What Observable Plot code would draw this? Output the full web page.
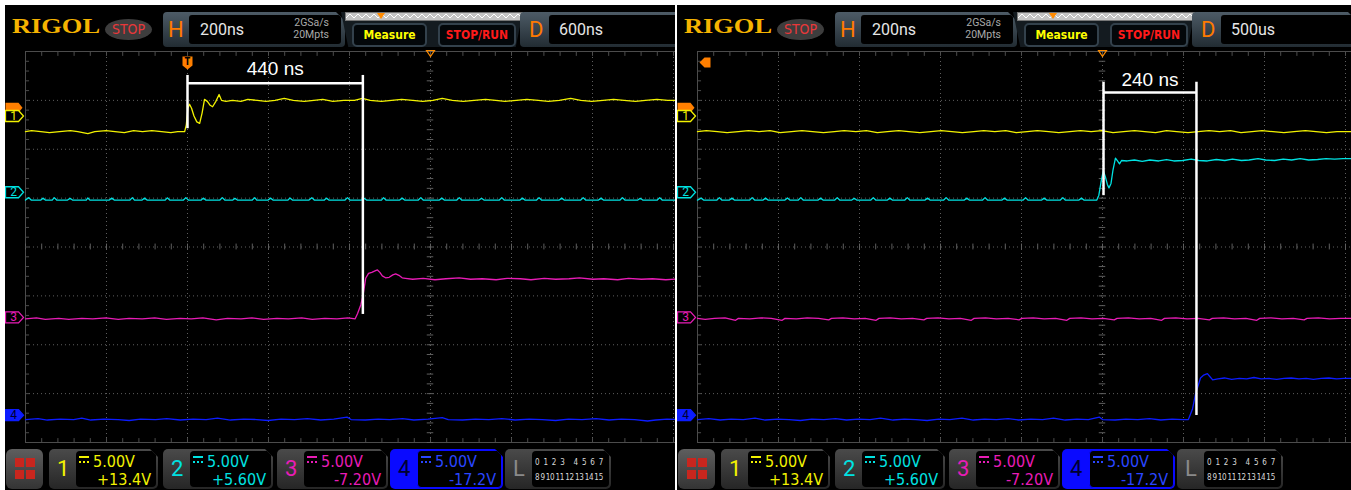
<!DOCTYPE html>
<html><head><meta charset="utf-8">
<script src="https://cdn.jsdelivr.net/npm/d3@7"></script>
<script src="https://cdn.jsdelivr.net/npm/@observablehq/plot@0.6"></script>
<style>
body{margin:0;background:#fff;font-family:"Liberation Sans Narrow","DejaVu Sans Condensed",Roboto,sans-serif;}
#wrap{position:relative;width:1351px;height:490px;overflow:hidden;background:#fff;}
.panel{position:absolute;top:5px;height:485px;background:#000;overflow:hidden;}
.a{position:absolute;}
.logo{left:7px;top:8px;font:bold 22px "Liberation Serif",serif;line-height:26px;color:#f5b300;transform:scaleX(1.2);transform-origin:0 0;}
.stop{left:100px;top:14px;width:47px;height:21px;border-radius:50%;background:#3d3d3d;color:#e8383a;font-size:14px;line-height:21px;text-align:center;}
.box{top:7px;height:35px;background:linear-gradient(#4d5b66,#222c33);border-radius:4px;clip-path:polygon(0 0,calc(100% - 9px) 0,100% 9px,100% 100%,0 100%);}
.box .inner{position:absolute;top:3px;bottom:3px;right:4px;background:#000;border-radius:3px;}
.letter{left:5px;top:0;line-height:35px;font-family:Roboto,sans-serif;font-size:22px;color:#ff7a00;}
.tval{top:0;line-height:29px;font-family:Roboto,sans-serif;font-size:16px;color:#e6e6e6;}
.srate{right:12px;top:2px;font-family:Roboto,sans-serif;font-size:10.5px;line-height:12px;color:#aaa;text-align:right;}
.mid{left:336px;top:7px;width:182px;height:35px;background:#141b20;clip-path:polygon(0 0,100% 0,96% 100%,4% 100%);}
.zig{left:340px;top:7px;width:176px;height:7px;background-color:#c3c3c3;border:1px solid #777;
 background-image:url("data:image/svg+xml,%3Csvg xmlns='http://www.w3.org/2000/svg' width='8' height='7'%3E%3Cpolyline points='0,5 4,1 8,5' fill='none' stroke='white' stroke-width='1'/%3E%3C/svg%3E");background-repeat:repeat-x;}
.ztri{left:372px;top:8px;width:0;height:0;border-left:4px solid transparent;border-right:4px solid transparent;border-top:6px solid #ff8a00;}
.btn{top:18px;height:20px;background:#03070a;border:2px solid #33414c;border-radius:5px;font-size:12px;line-height:20px;text-align:center;font-weight:bold;}
.menu{left:1px;top:444px;width:37px;height:40px;background:linear-gradient(#5e5e5e,#343434);border-radius:6px;}
.sq{width:9px;height:9px;background:#c8261e;}
.ch{top:444px;height:40px;background:linear-gradient(#4a4a4a,#262626);border-radius:5px;clip-path:polygon(0 0,calc(100% - 8px) 0,100% 8px,100% 100%,0 100%);}
.ch .num{left:8px;top:0;line-height:40px;font-family:Roboto,sans-serif;font-size:22px;}
.ch .inner{position:absolute;left:27px;top:2px;right:2px;bottom:2px;background:#000;border-radius:4px;}
.l1{left:3px;top:2px;font-size:16px;line-height:18px;white-space:nowrap;}
.l2{right:5px;top:20px;font-size:16px;line-height:18px;}
.dc{display:inline-block;width:10px;height:3px;border-top:2px solid currentColor;border-bottom:2px dotted currentColor;vertical-align:4px;margin-right:4px;}
.dig{left:3px;width:68px;display:flex;justify-content:space-between;font-size:8px;line-height:12px;color:#d8d8d8;letter-spacing:-0.3px;}
</style></head>
<body><div id="wrap"></div>
<script>
// ---------- data ----------
const channels = ["1", "2", "3", "4"];
const chColors = ["#f2f200", "#00e2e2", "#e81cb6", "#0c1cff"];
const chScaleLabels = ["5.00V", "5.00V", "5.00V", "5.00V"];
const chOffsetLabels = ["+13.4V", "+5.60V", "-7.20V", "-17.2V"];
const chOffsets = [13.4, 5.6, -7.2, -17.2];      // volts
const voltsPerDiv = 5;
const timebase = "200ns";
const sampleRate = "2GSa/s";
const memDepth = "20Mpts";
const delays = ["600ns", "500us"];
const measureLabels = ["440 ns", "240 ns"];
const triggerLevelCh1 = 0.75;                    // volts on CH1
const logicRow1 = ["0", "1", "2", "3", "4", "5", "6", "7"];
const logicRow2 = ["8", "9", "10", "11", "12", "13", "14", "15"];

// traces: [time ns from screen centre, volts]
const leftCh1 = [[-1000,-1.6],[-985,-1.5],[-962,-1.6],[-941,-1.7],[-916,-1.6],[-889,-1.5],[-871,-1.6],[-846,-1.8],[-829,-1.6],[-801,-1.5],[-779,-1.6],[-756,-1.7],[-733,-1.5],[-711,-1.6],[-688,-1.5],[-664,-1.6],[-641,-1.7],[-624,-1.6],[-607,-1.6],[-603,-0.9],[-599,0.8],[-595,1.2],[-590,0.8],[-584,0.0],[-577,-0.6],[-570,-0.75],[-564,0.3],[-558,1.7],[-551,1.5],[-544,1.1],[-538,0.95],[-530,1.5],[-522,2.2],[-516,1.6],[-505,1.5],[-489,1.6],[-468,1.5],[-451,1.7],[-428,1.6],[-406,1.5],[-384,1.6],[-361,1.8],[-339,1.6],[-312,1.5],[-288,1.6],[-266,1.7],[-241,1.5],[-214,1.6],[-188,1.6],[-168,1.8],[-149,1.6],[-121,1.5],[-96,1.6],[-71,1.7],[-44,1.6],[-19,1.5],[6,1.6],[29,1.8],[54,1.6],[81,1.5],[108,1.6],[136,1.7],[161,1.6],[184,1.5],[212,1.6],[238,1.7],[266,1.6],[291,1.5],[318,1.6],[346,1.8],[371,1.6],[398,1.5],[426,1.6],[452,1.7],[478,1.6],[506,1.5],[531,1.6],[559,1.7],[586,1.6],[620,1.6]];
const leftCh2 = [[-1000,-0.8],[-992,-0.55],[-986,-0.8],[-962,-0.8],[-957,-0.6],[-951,-0.8],[-934,-0.8],[-929,-0.55],[-923,-0.8],[-896,-0.8],[-890,-0.62],[-884,-0.8],[-850,-0.8],[-846,-0.58],[-841,-0.8],[-793,-0.8],[-787,-0.6],[-781,-0.8],[-742,-0.8],[-736,-0.55],[-731,-0.8],[-712,-0.8],[-706,-0.6],[-700,-0.8],[-655,-0.8],[-650,-0.57],[-644,-0.8],[-610,-0.8],[-604,-0.55],[-598,-0.8],[-566,-0.8],[-561,-0.6],[-555,-0.8],[-520,-0.8],[-514,-0.55],[-508,-0.8],[-488,-0.8],[-483,-0.62],[-477,-0.8],[-440,-0.8],[-434,-0.55],[-429,-0.8],[-401,-0.8],[-395,-0.6],[-389,-0.8],[-352,-0.8],[-347,-0.58],[-341,-0.8],[-300,-0.8],[-293,-0.55],[-287,-0.8],[-262,-0.8],[-257,-0.6],[-251,-0.8],[-211,-0.8],[-205,-0.55],[-199,-0.8],[-170,-0.8],[-164,-0.62],[-158,-0.8],[-121,-0.8],[-116,-0.55],[-110,-0.8],[-76,-0.8],[-70,-0.6],[-64,-0.8],[-30,-0.8],[-24,-0.55],[-18,-0.8],[22,-0.8],[28,-0.6],[34,-0.8],[65,-0.8],[71,-0.55],[77,-0.8],[120,-0.8],[126,-0.62],[132,-0.8],[170,-0.8],[176,-0.55],[182,-0.8],[221,-0.8],[227,-0.6],[233,-0.8],[262,-0.8],[268,-0.55],[274,-0.8],[318,-0.8],[324,-0.6],[330,-0.8],[371,-0.8],[377,-0.55],[383,-0.8],[415,-0.8],[421,-0.6],[427,-0.8],[468,-0.8],[474,-0.55],[480,-0.8],[512,-0.8],[518,-0.62],[524,-0.8],[560,-0.8],[566,-0.55],[572,-0.8],[620,-0.8]];
const leftCh3 = [[-1000,-0.15],[-973,-0.05],[-951,-0.2],[-918,-0.1],[-893,-0.2],[-861,-0.1],[-834,-0.15],[-802,-0.05],[-771,-0.2],[-744,-0.1],[-712,-0.15],[-681,-0.05],[-652,-0.2],[-618,-0.1],[-591,-0.15],[-562,-0.05],[-529,-0.25],[-501,-0.1],[-468,-0.15],[-441,-0.05],[-412,-0.2],[-379,-0.1],[-351,-0.15],[-318,-0.05],[-292,-0.2],[-261,-0.1],[-231,-0.15],[-204,-0.05],[-186,-0.15],[-180,0.4],[-172,1.3],[-166,2.4],[-160,4.0],[-153,4.5],[-145,4.6],[-137,4.75],[-131,4.85],[-125,4.6],[-119,4.25],[-111,4.05],[-102,4.1],[-93,4.35],[-86,4.45],[-78,4.3],[-70,4.05],[-62,4.0],[-44,3.9],[-18,4.0],[11,3.85],[38,3.95],[71,4.05],[99,3.9],[128,3.95],[162,3.85],[189,4.0],[222,3.95],[248,3.85],[281,4.0],[309,3.9],[342,3.95],[368,4.05],[401,3.9],[428,3.95],[462,3.85],[489,4.0],[521,3.9],[548,3.95],[581,3.85],[620,3.95]];
const leftCh4 = [[-1000,-0.45],[-969,-0.35],[-946,-0.5],[-914,-0.4],[-881,-0.45],[-861,-0.3],[-839,-0.5],[-806,-0.4],[-771,-0.45],[-744,-0.55],[-716,-0.4],[-679,-0.45],[-651,-0.35],[-618,-0.5],[-586,-0.4],[-554,-0.45],[-526,-0.3],[-494,-0.5],[-461,-0.4],[-429,-0.45],[-401,-0.55],[-369,-0.4],[-336,-0.45],[-304,-0.35],[-271,-0.5],[-239,-0.4],[-206,-0.2],[-196,-0.45],[-161,-0.5],[-129,-0.4],[-101,-0.45],[-69,-0.35],[-41,-0.5],[-6,-0.4],[29,-0.25],[44,-0.45],[79,-0.5],[111,-0.4],[144,-0.45],[176,-0.35],[209,-0.5],[244,-0.4],[276,-0.45],[309,-0.55],[341,-0.4],[374,-0.45],[409,-0.35],[441,-0.5],[471,-0.4],[504,-0.45],[536,-0.6],[556,-0.5],[584,-0.4],[620,-0.45]];

const rightCh1 = [[-1000,-1.6],[-978,-1.5],[-951,-1.6],[-927,-1.7],[-899,-1.6],[-874,-1.5],[-848,-1.6],[-821,-1.5],[-796,-1.7],[-768,-1.6],[-742,-1.5],[-716,-1.6],[-689,-1.7],[-662,-1.6],[-638,-1.5],[-609,-1.6],[-583,-1.5],[-556,-1.7],[-531,-1.6],[-503,-1.5],[-478,-1.6],[-451,-1.7],[-424,-1.6],[-398,-1.5],[-372,-1.6],[-346,-1.7],[-318,-1.6],[-293,-1.5],[-266,-1.6],[-239,-1.5],[-213,-1.7],[-186,-1.6],[-161,-1.5],[-133,-1.6],[-108,-1.7],[-81,-1.6],[-54,-1.5],[-28,-1.6],[-2,-1.5],[26,-1.7],[52,-1.6],[79,-1.5],[104,-1.6],[131,-1.7],[158,-1.5],[183,-1.6],[211,-1.7],[236,-1.6],[263,-1.5],[289,-1.6],[316,-1.5],[342,-1.7],[369,-1.6],[394,-1.5],[421,-1.6],[448,-1.7],[473,-1.6],[501,-1.5],[527,-1.6],[553,-1.7],[579,-1.6],[620,-1.6]];
const rightCh2 = [[-1000,-0.8],[-991,-0.6],[-985,-0.8],[-952,-0.8],[-946,-0.55],[-940,-0.8],[-921,-0.8],[-915,-0.6],[-909,-0.8],[-871,-0.8],[-865,-0.55],[-859,-0.8],[-838,-0.8],[-832,-0.6],[-826,-0.8],[-784,-0.8],[-778,-0.58],[-772,-0.8],[-751,-0.8],[-745,-0.55],[-739,-0.8],[-702,-0.8],[-696,-0.6],[-690,-0.8],[-661,-0.8],[-655,-0.55],[-649,-0.8],[-619,-0.8],[-613,-0.62],[-607,-0.8],[-572,-0.8],[-566,-0.55],[-560,-0.8],[-531,-0.8],[-525,-0.6],[-519,-0.8],[-488,-0.8],[-482,-0.55],[-476,-0.8],[-438,-0.8],[-432,-0.6],[-426,-0.8],[-392,-0.8],[-386,-0.55],[-380,-0.8],[-341,-0.8],[-335,-0.6],[-329,-0.8],[-296,-0.8],[-290,-0.55],[-284,-0.8],[-248,-0.8],[-242,-0.6],[-236,-0.8],[-196,-0.8],[-190,-0.55],[-184,-0.8],[-150,-0.8],[-144,-0.6],[-138,-0.8],[-104,-0.8],[-98,-0.55],[-92,-0.8],[-58,-0.8],[-52,-0.6],[-46,-0.8],[-14,-0.8],[-9,-0.3],[-3,1.2],[2,2.2],[7,1.6],[12,0.8],[16,0.45],[21,0.9],[26,2.3],[32,3.5],[37,3.2],[42,2.9],[47,3.25],[61,3.2],[79,3.3],[98,3.15],[117,3.3],[139,3.2],[158,3.35],[176,3.2],[198,3.25],[219,3.4],[238,3.25],[259,3.2],[281,3.35],[302,3.25],[321,3.4],[343,3.25],[362,3.3],[384,3.45],[403,3.3],[425,3.25],[446,3.4],[467,3.3],[488,3.45],[509,3.3],[531,3.35],[552,3.45],[573,3.4],[594,3.45],[620,3.45]];
const rightCh3 = [[-1000,-0.1],[-981,-0.2],[-958,-0.1],[-932,-0.05],[-906,-0.3],[-899,-0.1],[-871,-0.15],[-843,-0.05],[-818,-0.1],[-791,-0.3],[-784,-0.1],[-756,-0.15],[-729,-0.05],[-701,-0.1],[-676,-0.25],[-669,-0.1],[-641,-0.05],[-613,-0.15],[-586,-0.1],[-559,-0.3],[-552,-0.1],[-524,-0.05],[-497,-0.15],[-469,-0.1],[-441,-0.25],[-434,-0.1],[-406,-0.05],[-379,-0.15],[-351,-0.1],[-324,-0.3],[-317,-0.1],[-289,-0.05],[-262,-0.15],[-233,-0.1],[-206,-0.25],[-199,-0.1],[-171,-0.05],[-144,-0.15],[-116,-0.1],[-88,-0.3],[-81,-0.1],[-53,-0.05],[-26,-0.15],[2,-0.1],[29,-0.25],[36,-0.1],[64,-0.05],[91,-0.15],[119,-0.1],[146,-0.3],[153,-0.1],[181,-0.05],[209,-0.15],[236,-0.1],[264,-0.25],[271,-0.1],[299,-0.05],[326,-0.15],[354,-0.1],[381,-0.3],[388,-0.1],[416,-0.05],[443,-0.15],[471,-0.1],[498,-0.25],[505,-0.1],[533,-0.05],[561,-0.15],[588,-0.1],[620,-0.1]];
const rightCh4 = [[-1000,-0.45],[-972,-0.35],[-944,-0.5],[-917,-0.4],[-887,-0.45],[-858,-0.3],[-833,-0.5],[-802,-0.4],[-774,-0.45],[-746,-0.55],[-718,-0.4],[-688,-0.45],[-659,-0.35],[-632,-0.5],[-603,-0.4],[-574,-0.45],[-548,-0.3],[-517,-0.5],[-489,-0.4],[-461,-0.45],[-433,-0.55],[-404,-0.4],[-377,-0.45],[-347,-0.3],[-319,-0.5],[-291,-0.4],[-262,-0.45],[-233,-0.35],[-207,-0.5],[-177,-0.4],[-148,-0.45],[-121,-0.3],[-92,-0.5],[-63,-0.4],[-35,-0.45],[-8,-0.2],[0,-0.45],[31,-0.5],[58,-0.4],[87,-0.45],[116,-0.35],[144,-0.5],[172,-0.4],[198,-0.45],[212,-0.45],[222,0.6],[230,2.2],[242,3.8],[250,4.1],[259,4.25],[266,3.9],[272,3.6],[285,3.7],[301,3.8],[319,3.65],[338,3.75],[356,3.7],[374,3.85],[392,3.7],[411,3.75],[430,3.65],[448,3.75],[466,3.8],[485,3.7],[503,3.75],[521,3.65],[540,3.75],[559,3.8],[578,3.7],[596,3.75],[620,3.75]];

// measurement cursors (time in ns; vertical extents in screen divisions)
const cursorTimesLeft = [-600, -167];
const cursorTimesRight = [2.5, 232];
const cursorTopLeft = 3.51, cursorBarLeft = 3.35, cursorBottomsLeft = [2.42, -1.38], labelYLeft = 3.51;
const cursorTopRight = 3.37, cursorBarRight = 3.16, cursorBottomsRight = [1.05, -3.45], labelYRight = 3.29;

// ---------- layout ----------
const panels = [
  {left: 5, width: 670, delay: delays[0], label: measureLabels[0], traces: [leftCh1, leftCh2, leftCh3, leftCh4],
   ct: cursorTimesLeft, top: cursorTopLeft, bar: cursorBarLeft, bottoms: cursorBottomsLeft, ly: labelYLeft, trigT: true},
  {left: 677, width: 674, delay: delays[1], label: measureLabels[1], traces: [rightCh1, rightCh2, rightCh3, rightCh4],
   ct: cursorTimesRight, top: cursorTopRight, bar: cursorBarRight, bottoms: cursorBottomsRight, ly: labelYRight, trigT: false}
];

const tagSymbol = {draw(c){c.moveTo(-9,-5.5);c.lineTo(4,-5.5);c.lineTo(9,0);c.lineTo(4,5.5);c.lineTo(-9,5.5);c.closePath();}};
const trigTagSymbol = {draw(c){c.moveTo(-9,-5);c.lineTo(4,-5);c.lineTo(8,0);c.lineTo(4,5);c.lineTo(-9,5);c.closePath();}};
const shieldSymbol = {draw(c){c.moveTo(-5,-6);c.lineTo(5,-6);c.lineTo(5,3);c.lineTo(0,7);c.lineTo(-5,3);c.closePath();}};
const downTri = {draw(c){c.moveTo(-4,-1);c.lineTo(4,-1);c.lineTo(0,5);c.closePath();}};
const leftArrow = {draw(c){c.moveTo(-6,0);c.lineTo(-1,-5);c.lineTo(5,-5);c.lineTo(5,5);c.lineTo(-1,5);c.closePath();}};

const xMin = -1000;
const gridX = d3.range(-800, 1001, 200);
const gridY = d3.range(-3, 4, 1);
const minorX = d3.range(-1000, 1001, 40);
const minorY = d3.range(-4, 4.001, 0.2);
const gridC = "#5e5e5e", frameC = "#4c4c4c";

function makePlot(p) {
  const tags = channels.map((c, i) => ({ch: c, y: chOffsets[i] / voltsPerDiv, color: chColors[i], i}));
  const marks = [
    Plot.ruleX(gridX, {y1: -4, y2: 4, stroke: gridC, strokeDasharray: "1,3"}),
    Plot.ruleY(gridY, {x1: -1000, x2: 1000, stroke: gridC, strokeDasharray: "1,3"}),
    Plot.ruleX([xMin], {y1: -4, y2: 4, stroke: frameC}),
    Plot.ruleY([-4, 4], {x1: -1000, x2: 1000, stroke: frameC}),
    Plot.ruleX(minorX, {y1: 4, y2: 3.9, stroke: frameC}),
    Plot.ruleX(minorX, {y1: -4, y2: -3.92, stroke: frameC}),
    Plot.ruleX(minorX, {y1: -0.06, y2: 0.06, stroke: gridC}),
    Plot.ruleY(minorY, {x1: -1000, x2: -990, stroke: frameC}),
    Plot.ruleY(minorY, {x1: -8, x2: 8, stroke: gridC}),
    ...p.traces.map((tr, i) => Plot.line(tr, {x: d => d[0], y: d => (d[1] + chOffsets[i]) / voltsPerDiv,
        stroke: chColors[i], strokeWidth: 1.3})),
    // trigger level tag
    Plot.dot([triggerLevelCh1], {x: () => xMin, y: d => (d + chOffsets[0]) / voltsPerDiv, dx: -11, dy: -1, symbol: trigTagSymbol, fill: "#ff7f00", stroke: "none"}),
    Plot.dot(tags, {x: () => xMin, y: "y", dx: -11, symbol: tagSymbol, fill: d => d.i === 3 ? d.color : "#000", stroke: "color", strokeWidth: 1.3}),
    Plot.text(tags, {x: () => xMin, y: "y", dx: -12, text: "ch", fill: d => d.i === 3 ? "#000030" : d.color, fontSize: 12, fontFamily: "Roboto, sans-serif"}),
    // trigger position marker (hollow triangle at screen centre)
    Plot.dot([0], {x: d => d, y: () => 4, symbol: downTri, fill: "none", stroke: "#ff8c00", strokeWidth: 1.2}),
  ];
  if (p.trigT) {
    marks.push(Plot.dot([p.ct[0]], {x: d => d, y: () => 4, dy: 11, symbol: shieldSymbol, fill: "#ff7f00", stroke: "none"}));
    marks.push(Plot.text([p.ct[0]], {x: d => d, y: () => 4, dy: 10, text: () => "T", fill: "#000", fontSize: 10, fontWeight: "bold"}));
  } else {
    marks.push(Plot.dot([xMin], {x: d => d, y: () => 4, dx: 8, dy: 11, symbol: leftArrow, fill: "#ff7f00", stroke: "none"}));
  }
  // measurement cursors
  const cur = p.ct.map((t, i) => ({t, y1: p.top, y2: p.bottoms[i]}));
  marks.push(Plot.ruleX(cur, {x: "t", y1: "y1", y2: "y2", stroke: "#fff", strokeWidth: 2.5}));
  marks.push(Plot.ruleY([p.bar], {x1: () => p.ct[0], x2: () => p.ct[1], y: d => d, stroke: "#fff", strokeWidth: 2.5}));
  marks.push(Plot.text([p.label], {x: () => (p.ct[0] + p.ct[1]) / 2, y: () => p.ly, text: d => d, fill: "#fff",
     fontSize: 19, lineAnchor: "bottom", fontFamily: "Liberation Sans, Arial, sans-serif"}));
  return Plot.plot({
    width: p.width, height: 402, margin: 0,
    x: {domain: [-1000, 1000], range: [20, 830], axis: null},
    y: {domain: [-4, 4], range: [395, 4], axis: null},
    color: {type: "identity"},
    style: {background: "transparent", overflow: "hidden"},
    marks
  });
}

function html(p) {
  const chBoxes = [[44,109],[158,110],[272,111],[385,113]];
  let s = `
  <div class="a logo">RIGOL</div>
  <div class="a stop">STOP</div>
  <div class="a box" style="left:158px;width:182px"><div class="a letter">H</div>
    <div class="inner" style="left:26px"><div class="a tval" style="left:11px">${timebase}</div>
    <div class="a srate">${sampleRate}<br>${memDepth}</div></div></div>
  <div class="a mid"></div>
  <div class="a zig"></div><div class="a ztri"></div>
  <div class="a btn" style="left:347px;width:71px;color:#ffff00">Measure</div>
  <div class="a btn" style="left:433px;width:74px;color:#ff1a1a">STOP/RUN</div>
  <div class="a box" style="left:515px;width:165px"><div class="a letter" style="left:9px">D</div>
    <div class="inner" style="left:29px"><div class="a tval" style="left:10px">${p.delay}</div></div></div>
  <div class="a menu">
    <div class="a sq" style="left:9px;top:9px"></div><div class="a sq" style="left:20px;top:9px"></div>
    <div class="a sq" style="left:9px;top:21px"></div><div class="a sq" style="left:20px;top:21px"></div></div>`;
  channels.forEach((c, i) => {
    const blue = i === 3;
    const bg = blue ? "background:#0a0aff;" : "";
    s += `<div class="a ch" style="left:${chBoxes[i][0]}px;width:${chBoxes[i][1]}px;${bg}">
      <div class="a num" style="color:${blue ? '#000030' : chColors[i]}">${c}</div>
      <div class="inner" style="${blue ? 'border:1px solid #0a0aff;top:1px;bottom:1px;right:1px;' : ''}">
        <div class="a l1" style="color:${blue ? '#2a46ff' : chColors[i]}"><span class="dc"></span>${chScaleLabels[i]}</div>
        <div class="a l2" style="color:${blue ? '#2a46ff' : chColors[i]}">${chOffsetLabels[i]}</div></div></div>`;
  });
  const row1 = logicRow1.map((d, k) => `<span${k === 4 ? ' style="margin-left:5px"' : ''}>${d}</span>`).join("");
  const row2 = logicRow2.map(d => `<span>${d}</span>`).join("");
  s += `<div class="a ch" style="left:500px;width:106px"><div class="a num" style="color:#8a8a8a">L</div>
     <div class="inner"><div class="a dig" style="top:6px">${row1}</div>
     <div class="a dig" style="top:21px">${row2}</div></div></div>`;
  return s;
}

const wrap = document.getElementById("wrap");
panels.forEach(p => {
  const d = document.createElement("div");
  d.className = "panel";
  d.style.left = p.left + "px";
  d.style.width = p.width + "px";
  d.innerHTML = html(p);
  const holder = document.createElement("div");
  holder.className = "a";
  holder.style.left = "0px"; holder.style.top = "42px";
  holder.appendChild(makePlot(p));
  d.appendChild(holder);
  wrap.appendChild(d);
});
</script>
</body></html>
